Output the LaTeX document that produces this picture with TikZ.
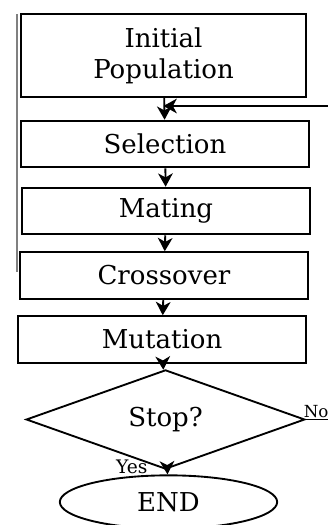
\documentclass[tikz,border=0pt]{standalone}
\usepackage{fontspec}
\setmainfont{DejaVu Serif}
\usetikzlibrary{shapes.geometric,arrows.meta,positioning,calc}

\tikzset{
  stage/.style={draw, line width=1.4pt, minimum width=216pt, minimum height=35pt,
                inner sep=0pt, align=center, font=\fontsize{19.5}{23}\selectfont},
  flow/.style={line width=1.4pt, -{Stealth[length=10pt,width=11pt,inset=3pt]}},
}

\begin{document}
\begin{tikzpicture}[x=0.75pt, y=-0.75pt]

    %% frame of the page
    \useasboundingbox (0,0) rectangle (328,525);
    \clip (0,0) rectangle (328,525);

    %% stray rule on the left
    \coordinate (ruleTop) at (17,14);
    \coordinate (ruleBot) at (17,272);
    \draw[gray, line width=0.8pt] (ruleTop) -- (ruleBot);

    %% stages
    \node[stage, minimum width=214pt, minimum height=62pt]
      (init) at (163.5,55.5) {Initial\\Population};
    \node[stage] (sel)   at (165,144)   {Selection};
    \node[stage] (mat)   at (166,211)   {Mating};
    \node[stage] (cross) at (164,275.5) {Crossover};
    \node[stage] (mut)   at (162,339.5) {Mutation};

    %% decision and end
    \node[draw, diamond, line width=1.4pt, inner sep=0pt,
          minimum width=209pt, minimum height=56pt,
          font=\fontsize{19.5}{23}\selectfont]
      (stop) at (165.5,419.5) {Stop?};
    \node[draw, ellipse, line width=1.4pt, inner sep=0pt,
          minimum width=163pt, minimum height=40pt,
          font=\fontsize{19.5}{23}\selectfont]
      (end) at (168.5,502) {END};

    %% main flow
    \draw[flow] (init) -- (sel);
    \draw[flow] (sel) -- (mat);
    \draw[flow] (mat) -- (cross);
    \draw[flow] (cross) -- (mut);
    \draw[flow] (mut) -- (stop);
    \draw[flow] (stop) -- (end);

    %% loop back
    \coordinate (fbIn) at (330,106);
    \coordinate (fbEnd) at (init.south |- fbIn);
    \draw[flow] (fbIn) -- (fbEnd);

    \coordinate (noOut) at (330,419.5);
    \draw[line width=1.4pt] (stop.east) -- (noOut);

    %% labels
    \node[anchor=south east, inner sep=1pt,
          font=\fontsize{12.5}{12.5}\selectfont] (noLbl) at (noOut) {No};
    \node[anchor=east, inner sep=1pt,
          font=\fontsize{14}{14}\selectfont] (yesLbl) at (149,467) {Yes};

\end{tikzpicture}
\end{document}
